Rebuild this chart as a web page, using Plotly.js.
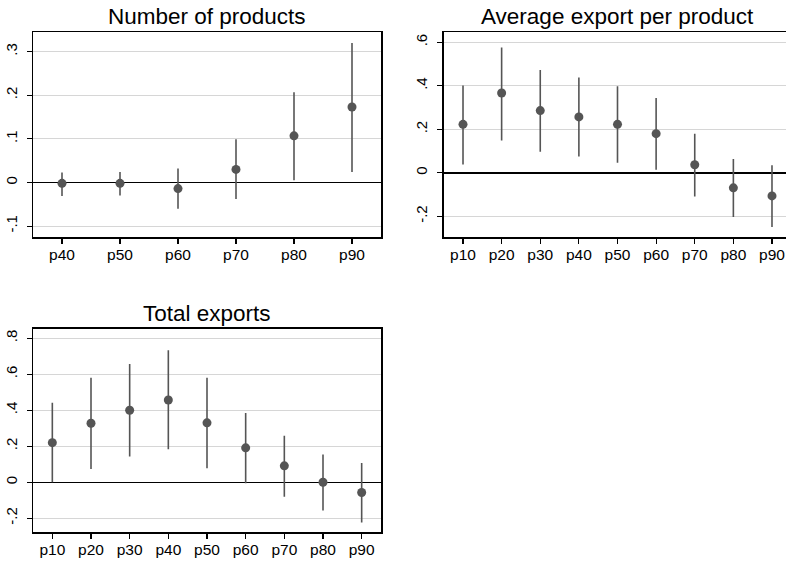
<!DOCTYPE html>
<html>
<head>
<meta charset="utf-8">
<script src="https://cdn.plot.ly/plotly-3.0.1.min.js"></script>
<style>
  html, body { margin: 0; padding: 0; overflow: hidden; background: #fff; }
  #chart { width: 792px; height: 565px; }
</style>
</head>
<body>
<div id="chart"></div>
<script>
// Number of products: point estimates with confidence bounds
const prodCats = ['p40', 'p50', 'p60', 'p70', 'p80', 'p90'];
const prodEst = [-0.002, -0.002, -0.014, 0.030, 0.107, 0.173];
const prodLo  = [-0.031, -0.030, -0.060, -0.038, 0.005, 0.024];
const prodHi  = [0.023, 0.024, 0.032, 0.099, 0.207, 0.320];

// Average export per product
const decCats = ['p10', 'p20', 'p30', 'p40', 'p50', 'p60', 'p70', 'p80', 'p90'];
const avgEst = [0.223, 0.367, 0.286, 0.257, 0.223, 0.180, 0.037, -0.069, -0.106];
const avgLo  = [0.038, 0.149, 0.097, 0.075, 0.046, 0.014, -0.109, -0.203, -0.249];
const avgHi  = [0.401, 0.576, 0.473, 0.438, 0.398, 0.344, 0.180, 0.063, 0.035];

// Total exports
const totEst = [0.220, 0.328, 0.400, 0.457, 0.330, 0.191, 0.091, 0.000, -0.057];
const totLo  = [0.000, 0.074, 0.143, 0.183, 0.078, -0.006, -0.081, -0.157, -0.224];
const totHi  = [0.441, 0.580, 0.657, 0.733, 0.580, 0.385, 0.259, 0.154, 0.107];

// Y tick labels (Stata style, no leading zero)
const prodTickVals = [-0.1, 0, 0.1, 0.2, 0.3];
const prodTickText = ['-.1', '0', '.1', '.2', '.3'];
const avgTickVals = [-0.2, 0, 0.2, 0.4, 0.6];
const avgTickText = ['-.2', '0', '.2', '.4', '.6'];
const totTickVals = [-0.2, 0, 0.2, 0.4, 0.6, 0.8];
const totTickText = ['-.2', '0', '.2', '.4', '.6', '.8'];

const W = 792, H = 565;
const FONT = 'Liberation Sans, Arial, sans-serif';
const MARK = '#555555';

function ciTrace(cats, est, lo, hi, xa, ya) {
  return {
    type: 'scatter', mode: 'markers',
    x: cats, y: est, xaxis: xa, yaxis: ya,
    marker: { color: MARK, size: 9, line: { width: 0 } },
    error_y: {
      type: 'data', symmetric: false,
      array: hi.map((h, i) => h - est[i]),
      arrayminus: lo.map((l, i) => est[i] - l),
      color: MARK, thickness: 1.6, width: 0
    },
    hoverinfo: 'skip', showlegend: false
  };
}

function xAxis(domain, nCats, anchor) {
  return {
    domain: domain, anchor: anchor, type: 'category',
    range: [-0.5, nCats - 0.5], fixedrange: true,
    showgrid: false, zeroline: false,
    showline: true, linecolor: '#000', linewidth: 1.5, mirror: true,
    ticks: 'outside', ticklen: 5, tickwidth: 1.2, tickcolor: '#000',
    ticklabelstandoff: -2,
    tickfont: { family: FONT, size: 15.5, color: '#000' }
  };
}

function yAxis(domain, range, vals, text, anchor) {
  return {
    domain: domain, anchor: anchor, range: range, fixedrange: true,
    tickmode: 'array', tickvals: vals, ticktext: text, tickangle: -90,
    showgrid: true, gridcolor: '#d6d6d6', gridwidth: 1.2,
    zeroline: true, zerolinecolor: '#000', zerolinewidth: 1.5,
    showline: true, linecolor: '#000', linewidth: 1.5, mirror: true,
    ticks: 'outside', ticklen: 5, tickwidth: 1.2, tickcolor: '#000',
    ticklabelstandoff: 4,
    tickfont: { family: FONT, size: 15, color: '#000' }
  };
}

const px = v => v / W;
const py = v => 1 - v / H;

const data = [
  ciTrace(prodCats, prodEst, prodLo, prodHi, 'x', 'y'),
  ciTrace(decCats, avgEst, avgLo, avgHi, 'x2', 'y2'),
  ciTrace(decCats, totEst, totLo, totHi, 'x3', 'y3')
];

function title(text, xc, yc) {
  return {
    text: text, xref: 'paper', yref: 'paper',
    x: px(xc), y: py(yc), xanchor: 'center', yanchor: 'middle',
    showarrow: false, font: { family: FONT, size: 22.5, color: '#000' }
  };
}

const layout = {
  width: W, height: H,
  margin: { l: 0, r: 0, t: 0, b: 0 },
  paper_bgcolor: '#fff', plot_bgcolor: '#fff',
  showlegend: false,
  xaxis: xAxis([px(33), px(381)], prodCats.length, 'y'),
  yaxis: yAxis([py(237), py(32)], [-0.125, 0.345], prodTickVals, prodTickText, 'x'),
  xaxis2: xAxis([px(443.7), px(791.3)], decCats.length, 'y2'),
  yaxis2: yAxis([py(237), py(32.3)], [-0.295, 0.646], avgTickVals, avgTickText, 'x2'),
  xaxis3: xAxis([px(33), px(381)], decCats.length, 'y3'),
  yaxis3: yAxis([py(532.3), py(328.7)], [-0.278, 0.853], totTickVals, totTickText, 'x3'),
  annotations: [
    title('Number of products', 207, 17),
    title('Average export per product', 617, 17),
    title('Total exports', 207, 313)
  ]
};

Plotly.newPlot('chart', data, layout, { staticPlot: true, displayModeBar: false, responsive: false });
</script>
</body>
</html>
